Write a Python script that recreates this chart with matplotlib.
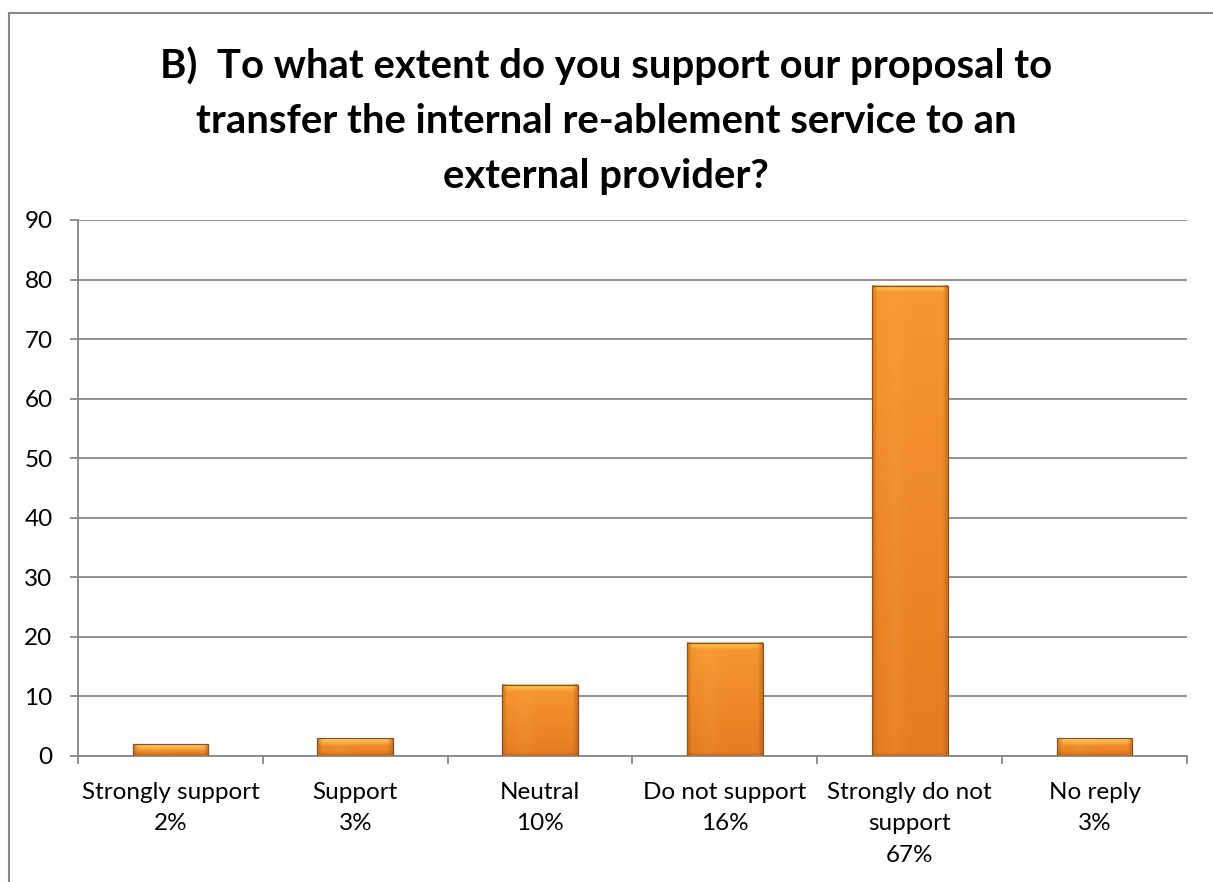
import numpy as np
import matplotlib
matplotlib.use("Agg")
import matplotlib.pyplot as plt
from matplotlib.lines import Line2D
from matplotlib.patches import Rectangle

categories = ["Strongly support", "Support", "Neutral", "Do not support",
              "Strongly do not\nsupport", "No reply"]
counts = [2, 3, 12, 19, 79, 3]
percents = ["2%", "3%", "10%", "16%", "67%", "3%"]
yticks = [0, 10, 20, 30, 40, 50, 60, 70, 80, 90]
title = ("B)  To what extent do you support our proposal to\n"
         "transfer the internal re-ablement service to an\n"
         "external provider?")

W, H, DPI = 1213, 882, 100
plt.rcParams["font.family"] = ["Lato", "DejaVu Sans"]

fig = plt.figure(figsize=(W / DPI, H / DPI), dpi=DPI)
ax = fig.add_axes([78 / W, 1 - 756 / H, (1187 - 78) / W, (756 - 220) / H])

grid_c = "#888888"
x = np.arange(len(categories))
bar_w = 0.41
label_fs = 17.5

ax.set_xlim(-0.5, len(categories) - 0.5)
ax.set_ylim(0, 90)
ax.set_yticks(yticks)
ax.set_yticklabels([str(t) for t in yticks], fontsize=label_fs)
ax.yaxis.grid(True, color=grid_c, linewidth=1.3)
ax.set_axisbelow(True)
for s in ["top", "right"]:
    ax.spines[s].set_visible(False)
for s in ["left", "bottom"]:
    ax.spines[s].set_color(grid_c)
    ax.spines[s].set_linewidth(1.3)
ax.tick_params(axis="y", length=5.8, width=1.3, color=grid_c, pad=12.5)

# category boundaries carry the x tick marks
ax.set_xticks(np.arange(len(categories) + 1) - 0.5)
ax.set_xticklabels([])
ax.tick_params(axis="x", length=5.8, width=1.3, color=grid_c)
for i, (c, p) in enumerate(zip(categories, percents)):
    ax.text(i, -4.3, f"{c}\n{p}", ha="center", va="top", fontsize=label_fs,
            linespacing=1.62, transform=ax.transData)

bars = ax.bar(x, counts, width=bar_w, color="none", edgecolor="none", zorder=2)

# shaded fill for each bar, built at pixel resolution
fig.canvas.draw()
to_px = ax.transData
top_c = np.array([0xF8, 0x98, 0x30]) / 255
bot_c = np.array([0xE4, 0x7C, 0x22]) / 255
hi_c = np.array([0xFF, 0xE0, 0x70]) / 255
edge_c = np.array([0x9A, 0x55, 0x18]) / 255
for rect, v in zip(bars, counts):
    x0, x1 = rect.get_x(), rect.get_x() + rect.get_width()
    (px0, py0), (px1, py1) = to_px.transform([(x0, 0), (x1, v)])
    wpx = max(int(round(px1 - px0)), 2)
    hpx = max(int(round(py1 - py0)), 2)
    yy = np.linspace(0, 1, hpx)[:, None, None]  # 0 top -> 1 bottom
    img = top_c * (1 - yy) + bot_c * yy
    img = np.broadcast_to(img, (hpx, wpx, 3)).copy()
    xs = np.arange(wpx)
    dist = np.minimum(xs, wpx - 1 - xs).astype(float)
    # soft lighter stripe left of centre
    stripe = np.exp(-((xs - 0.3 * wpx) / (0.12 * wpx)) ** 2)[None, :, None]
    img = img * (1 - 0.12 * stripe) + np.array([1.0, 0.72, 0.35]) * 0.12 * stripe
    # darker side edges
    side = np.clip(1 - dist / 5.0, 0, 1)[None, :, None]
    img = img * (1 - 0.45 * side) + edge_c * 0.45 * side
    # yellow bevel on top
    rows = np.arange(hpx)
    bev = np.clip(1 - rows / 7.0, 0, 1)[:, None, None]
    inner = np.clip(dist / 6.0, 0, 1)[None, :, None]
    img = img * (1 - 0.75 * bev * inner) + hi_c * 0.75 * bev * inner
    # darker bottom rim
    bot = np.clip(1 - (hpx - 1 - rows) / 4.0, 0, 1)[:, None, None]
    img = img * (1 - 0.4 * bot) + edge_c * 0.4 * bot
    ax.imshow(np.clip(img, 0, 1), extent=(x0, x1, 0, v), aspect="auto",
              origin="upper", zorder=2, interpolation="bilinear")
    ax.add_patch(Rectangle((x0, 0), x1 - x0, v, fill=False,
                           edgecolor="#8E5420", linewidth=0.9, zorder=3))
ax.set_xlim(-0.5, len(categories) - 0.5)
ax.set_ylim(0, 90)

fig.text(606 / W, 1 - 46 / H, title,
         ha="center", va="top", fontsize=28.8, fontweight="bold",
         linespacing=1.6)

# chart-area frame
fig.add_artist(Line2D([9 / W, 9 / W], [0, 1 - 13 / H], color=grid_c, lw=1.5))
fig.add_artist(Line2D([9 / W, 1], [1 - 13 / H, 1 - 13 / H], color=grid_c, lw=1.5))

fig.savefig("out.png", dpi=DPI, facecolor="white")
